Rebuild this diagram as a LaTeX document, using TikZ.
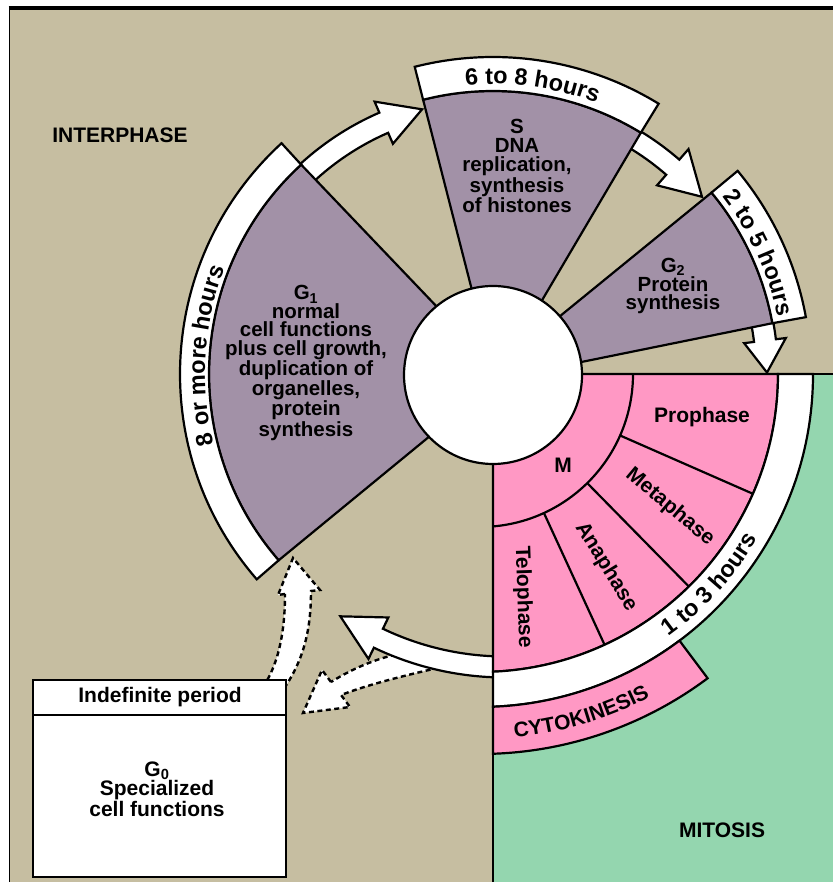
\documentclass[tikz,border=0pt]{standalone}
\usepackage{fontspec}
\setmainfont{Liberation Sans}
\usetikzlibrary{decorations.text}
\definecolor{cTan}{RGB}{198,190,161}
\definecolor{cPurp}{RGB}{162,145,167}
\definecolor{cPink}{RGB}{255,152,196}
\definecolor{cGreen}{RGB}{148,214,175}
\newcommand{\ccLbl}{\bfseries\fontsize{21}{21}\selectfont}
\newcommand{\ccBand}{\bfseries\fontsize{23.5}{23.5}\selectfont}
\newcommand{\ccArcArrow}[7]{%
  \path[#1] (#4:{#2+#3}) arc[start angle=#4, end angle=#5, radius={#2+#3}]
    -- (#5:{#2+#7}) -- (#6:#2) -- (#5:{#2-#7}) -- (#5:{#2-#3})
    arc[start angle=#5, end angle=#4, radius={#2-#3}] -- cycle;}
\tikzset{
 outl/.style={draw=black, line width=2.2pt, line join=miter},
 sect/.style={outl, fill=cPurp},
 band/.style={outl, fill=white},
 dsh/.style={draw=black, fill=white, line width=2.4pt, dash pattern=on 5pt off 3.5pt},
 arr/.style={outl, fill=white},
 txt/.style={font=\ccLbl, align=center, inner sep=0pt},
 sectxt/.style={font=\bfseries\fontsize{20.5}{18.5}\selectfont, align=center, inner sep=0pt},
}
\begin{document}
\begin{tikzpicture}[x=1pt,y=1pt]
\useasboundingbox (0,0) rectangle (833,882);
\fill[white] (0,0) rectangle (833,882);
\fill[cTan] (9.5,0) rectangle (833,874);
\fill[cGreen] (493,0) rectangle (833,508);
\draw[line width=1.6pt] (9.5,0) -- (9.5,874);
\draw[line width=4pt] (8.7,874) -- (833,874);

\coordinate (C) at (493,508);
\coordinate (CM) at (480,508);
\coordinate (C2) at (505,508);

% dashed arrows to and from G0
\path[dsh] (285,288) -- (278,287) -- (293,324) -- (320,292) -- (311,291)
  .. controls (311,255) and (305,225) .. (285,195) -- (263,195)
  .. controls (280,220) and (285,255) .. (285,288) -- cycle;
\path[dsh] (331,200) -- (322,212) -- (303,169) -- (350,175) -- (341,187)
  .. controls (375,200) and (420,210) .. (455,218) -- (425,233)
  .. controls (385,228) and (355,215) .. (331,200) -- cycle;

% solid arrow M -> G1
\begin{scope}[shift={(C2)}]
\ccArcArrow{arr}{293}{10.5}{272}{244.4}{235.8}{23}
\end{scope}

% G0 box
\draw[outl, line width=2.5pt, fill=white] (33,5) rectangle (286,202);
\draw[outl, line width=2.5pt] (33,167) -- (286,167);
\node[txt] (g0h) at (160,185) {Indefinite period};
\node[txt, font=\bfseries\fontsize{21}{19}\selectfont] (g0) at (157,93) {G\textsubscript{0}\\Specialized\\cell functions};

% M region
\begin{scope}[shift={(CM)}]
\path[outl, fill=cPink] (13,0) -- (298,0) arc[start angle=0,end angle=-87.5,radius=298] -- cycle;
\draw[outl] (153,0) arc[start angle=0,end angle=-85.13,radius=153];
\foreach \a in {-23.7,-45.5,-65.3} \draw[outl] (\a:153) -- (\a:298);
\path[band] (298,0) -- (333,0) arc[start angle=0,end angle=-87.76,radius=333]
  -- (-87.5:298) arc[start angle=-87.5,end angle=0,radius=298] -- cycle;
\path[outl, fill=cPink] (-53.2:333) -- (-53.2:380) arc[start angle=-53.2,end angle=-88.04,radius=380]
  -- (-87.76:333) arc[start angle=-87.76,end angle=-53.2,radius=333] -- cycle;
\path[decorate, decoration={text along path, text={|\ccBand|1 to 3 hours}, text align=center}]
  (-72.5:323) arc[start angle=-72.5,end angle=-12.5,radius=323];
\path[decorate, decoration={text along path, text={|\ccLbl|CYTOKINESIS}, text align=center}]
  (-98.4:365) arc[start angle=-98.4,end angle=-48.4,radius=365];
\end{scope}
\draw[outl] (493,0) -- (493,508) -- (833,508);

% interphase arrows, sectors, bands
\begin{scope}[shift={(C)}]
\ccArcArrow{arr}{274}{11}{135}{113.5}{105}{23}
\ccArcArrow{arr}{274}{10}{62}{49}{40.3}{24}
\ccArcArrow{arr}{274}{11}{13}{7}{0.3}{21}
\path[sect] (10,-2) -- (132.5:284) arc[start angle=132.5,end angle=221,radius=284] -- cycle;
\path[sect] (2,-6) -- (58.5:283) arc[start angle=58.5,end angle=104.3,radius=283] -- cycle;
\path[sect] (-15,-9) -- (10.3:284) arc[start angle=10.3,end angle=39.7,radius=284] -- cycle;
\path[band] (132.5:284) -- (132.5:313) arc[start angle=132.5,end angle=221,radius=313]
  -- (221:284) arc[start angle=221,end angle=132.5,radius=284] -- cycle;
\path[band] (58.5:283) -- (58.5:317) arc[start angle=58.5,end angle=104.3,radius=317]
  -- (104.3:283) arc[start angle=104.3,end angle=58.5,radius=283] -- cycle;
\path[band] (10.3:284) -- (10.3:318) arc[start angle=10.3,end angle=39.7,radius=318]
  -- (39.7:284) arc[start angle=39.7,end angle=10.3,radius=284] -- cycle;
\path[decorate, decoration={text along path, text={|\ccBand|8 or more hours}, text align=center}]
  (206.3:288) arc[start angle=206.3,end angle=146.3,radius=288];
\path[decorate, decoration={text along path, text={|\ccBand|6 to 8 hours}, text align=center}]
  (112.25:290) arc[start angle=112.25,end angle=52.25,radius=290];
\path[decorate, decoration={text along path, text={|\ccBand|2 to 5 hours}, text align=center}]
  (54.5:290) arc[start angle=54.5,end angle=-5.5,radius=290];
\draw[outl, fill=white] (0,-1) circle[radius=89];
\end{scope}

% labels
\node[txt] (interph) at (120,747) {INTERPHASE};
\node[txt] (mitosis) at (722,52) {MITOSIS};
\node[sectxt] (g1t) at (306,519) {G\textsubscript{1}\\normal\\cell functions\\plus cell growth,\\duplication of\\organelles,\\protein\\synthesis};
\node[sectxt, font=\bfseries\fontsize{20.5}{19}\selectfont] (st) at (517,716) {S\\DNA\\replication,\\synthesis\\of histones};
\node[sectxt] (g2t) at (673,596) {G\textsubscript{2}\\Protein\\synthesis};
\node[txt] (mt) at (563,417) {M};
\node[txt] (pro) at (702,465) {Prophase};
\node[txt, rotate=-40] (meta) at (670,375) {Metaphase};
\node[txt, rotate=-58.5] (ana) at (606,315) {Anaphase};
\node[txt, rotate=-88] (telo) at (523,285) {Telophase};
\end{tikzpicture}
\end{document}
